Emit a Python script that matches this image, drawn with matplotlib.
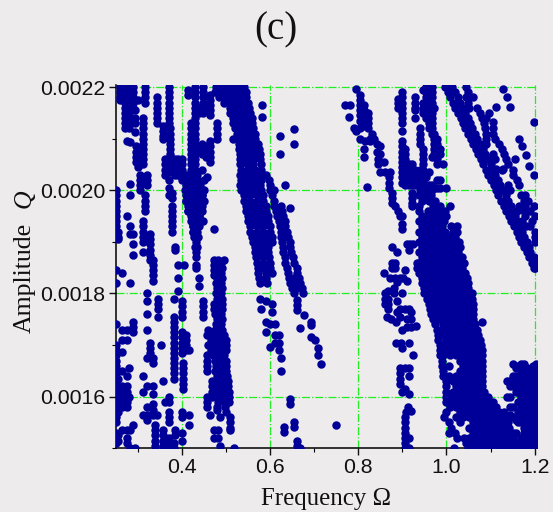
import matplotlib
matplotlib.use('Agg')
import matplotlib.pyplot as plt
from matplotlib.ticker import MultipleLocator, FormatStrFormatter

# values, amplitude in units of 1e-4
# columns are (frequency, [amplitudes]), rows are (amplitude, [frequencies])
left_cols = [
    (0.25, [20.0, 19.9, 19.8, 19.7, 19.6, 19.5, 19.4, 19.3, 18.45, 18.2, 17.4, 17.0, 16.9, 16.8, 16.7, 16.6, 16.5, 16.4, 16.3, 16.2, 16.1, 16.0, 15.9, 15.8, 15.7, 15.6, 15.5, 15.3, 15.2, 15.1]),
    (0.256, [19.2, 19.1, 19.05, 16.35, 16.2, 16.1, 16.0, 15.9, 15.8, 15.7, 15.25, 15.15]),
    (0.26, [22.0, 21.9, 21.8, 21.75]),
    (0.264, [18.4, 17.3, 17.1, 16.87, 16.5, 16.2, 16.1, 16.0, 15.9, 15.8, 15.35]),
    (0.27, [22.0, 21.9, 21.8, 21.7, 21.6, 21.5, 21.4, 21.3, 21.2]),
    (0.275, [19.5, 17.3, 17.1, 16.4, 16.2, 16.1, 16.0, 15.9, 15.8, 15.35, 15.2, 15.1, 20.95]),
    (0.28, [22.0, 21.9, 21.8, 21.7, 21.6, 21.5, 21.4, 21.3, 21.2, 16.55, 16.0]),
    (0.283, [20.94, 20.13, 19.9, 19.3, 19.15, 18.2, 15.35, 15.0]),
    (0.289, [22.0, 21.9, 21.8, 21.7, 21.6, 19.15, 18.95, 18.75, 17.45, 17.35, 17.25, 15.45]),
    (0.294, [21.55, 21.4, 21.3, 21.13, 15.0]),
    (0.296, [20.85, 20.75, 20.65, 20.55]),
    (0.30, [21.75, 20.45]),
    (0.305, [20.3, 20.2, 20.1, 20.0]),
    (0.313, [21.4, 21.3, 21.2, 21.1, 21.0, 20.9, 20.8, 20.7, 20.6, 20.5, 19.4, 19.3, 19.2, 19.1, 19.0, 18.8, 16.4, 16.1, 15.65]),
    (0.317, [22.0, 21.9, 21.8, 21.7, 19.9, 19.8, 19.7, 19.6]),
    (0.32, [20.3, 20.2, 20.1, 18.0, 17.85, 17.6, 17.3, 16.75, 16.2, 15.8, 15.65, 15.55]),
    (0.328, [19.15, 19.05, 18.95, 18.85, 18.75, 18.65, 17.05, 16.95, 16.85]),
    (0.335, [18.65, 18.55, 18.45, 18.35, 18.25, 16.75, 16.65, 16.2, 16.05, 15.85, 15.75, 15.65]),
    (0.339, [15.45, 15.35, 15.25, 15.15, 15.05]),
    (0.343, [21.8, 21.7, 21.6, 21.5, 21.4, 21.3, 15.65]),
    (0.347, [17.9, 17.8, 17.7, 17.55]),
    (0.353, [17.0]),
    (0.358, [21.25, 21.15, 21.05, 21.0, 16.3, 15.35, 15.25, 15.15, 15.05]),
    (0.362, [20.6, 20.5, 20.4, 20.3, 15.9]),
    (0.37, [22.0, 21.9, 21.8, 21.7, 21.6, 21.5, 21.4, 21.3, 20.2, 20.05, 19.9, 16.0, 15.9, 15.7, 15.6, 15.5, 15.2, 15.1, 15.0]),
    (0.373, [21.2, 21.1, 21.0, 20.9, 20.8, 20.7, 20.65, 20.55, 20.45, 20.35]),
    (0.377, [19.95, 19.85, 19.7, 19.6, 19.5, 19.4, 19.3, 19.2]),
    (0.383, [17.9, 17.55, 17.45, 17.35, 17.25, 17.15, 17.05, 16.95, 16.85, 16.75, 16.65, 16.55, 16.45, 16.35, 15.1, 15.0]),
    (0.385, [18.9, 18.85, 20.6, 20.5, 20.4, 20.3, 15.35, 15.25]),
    (0.392, [18.55, 18.3, 18.05, 20.6, 20.5, 20.4, 20.3]),
    (0.40, [17.85, 17.75, 17.65, 17.55, 17.25, 17.15, 17.05, 16.95, 16.85, 15.7, 15.6, 15.3, 15.15, 20.6, 20.5, 20.4, 20.3, 20.2]),
    (0.402, [16.65, 16.55, 16.45, 16.35, 16.25, 16.15]),
    (0.404, [18.55]),
    (0.409, [17.2, 17.1, 17.0, 16.9]),
    (0.417, [16.9, 15.65, 15.45]),
]

spike_cols = [
    (0.41, [20.2, 20.1, 20.0, 19.9, 19.8]),
    (0.415, [21.95, 21.85, 20.25, 20.1, 20.0, 19.9, 19.8, 19.7, 19.6]),
    (0.42, [21.3, 21.2, 21.1, 21.0, 20.9, 20.8, 20.7, 20.6, 20.5, 20.4, 20.3, 20.2, 20.1, 20.0, 19.9, 19.8, 19.7, 19.6, 19.5]),
    (0.425, [19.9, 19.8, 19.7, 19.6, 19.5, 19.4, 19.3, 19.2]),
    (0.43, [22.0, 21.9, 21.8, 21.7, 21.6, 21.5, 21.4, 21.3, 21.2, 21.1, 21.0, 20.9, 20.8, 20.7, 20.6, 20.5, 20.4, 20.3, 20.1, 20.0, 19.9, 19.8, 19.7, 19.6, 19.5, 19.4, 19.3, 19.2, 19.1]),
    (0.432, [19.0, 18.9, 18.8, 18.55, 18.5]),
    (0.44, [21.6, 21.5, 20.1, 20.0, 19.9, 19.8, 19.7, 19.6, 19.5, 18.3, 18.15]),
    (0.445, [20.9, 20.8, 20.7, 20.4, 20.0, 19.9, 19.8]),
    (0.449, [22.0, 21.9, 21.8, 21.7, 21.6, 21.5, 19.4, 17.85, 17.75, 17.65, 17.55]),
    (0.455, [20.85, 20.75, 20.65]),
    (0.457, [21.6, 20.25, 16.8, 16.7, 16.6, 16.5, 16.0, 15.9, 15.8]),
    (0.464, [21.85, 21.75, 21.65, 21.55, 21.45, 20.95, 20.85, 20.75, 20.65, 20.55, 15.65]),
    (0.468, [16.3, 16.2, 16.1, 16.0]),
    (0.472, [19.25, 18.65, 18.55, 18.45, 18.35, 15.35, 15.2]),
    (0.479, [21.3, 21.2, 21.1, 21.0, 15.75]),
    (0.483, [18.65, 15.35, 15.2]),
    (0.487, [15.6, 15.05]),
    (0.495, [18.65]),
    (0.51, [15.6, 15.5, 15.4, 15.35]),
    (0.519, [15.0]),
]

bar_rows = [
    (18.6, [0.478, 0.488]), (18.5, [0.48, 0.49]), (18.4, [0.478, 0.488]), (18.3, [0.48, 0.49]),
    (18.2, [0.478, 0.488]), (18.1, [0.48, 0.49]), (18.0, [0.478, 0.488]), (17.9, [0.48, 0.49]),
    (17.8, [0.472, 0.485, 0.49]), (17.7, [0.472, 0.48, 0.49]), (17.6, [0.475, 0.488]), (17.5, [0.48, 0.49]),
    (17.4, [0.478, 0.488]), (17.3, [0.46, 0.475, 0.49]), (17.2, [0.458, 0.47, 0.483, 0.496]),
    (17.1, [0.465, 0.478, 0.49, 0.5]), (17.0, [0.46, 0.473, 0.486, 0.5]), (16.9, [0.465, 0.478, 0.49, 0.5]),
    (16.8, [0.47, 0.483, 0.496]), (16.7, [0.475, 0.488, 0.5]), (16.6, [0.478, 0.49, 0.5]),
    (16.5, [0.475, 0.488, 0.5]), (16.4, [0.48, 0.492, 0.502]), (16.3, [0.483, 0.495, 0.505]),
    (16.2, [0.478, 0.49, 0.505]), (16.1, [0.483, 0.495, 0.507]), (16.0, [0.48, 0.492, 0.507]),
    (15.9, [0.483, 0.495, 0.507]), (15.8, [0.48, 0.498]), (15.7, [0.5]),
]

spike_rows = [
    (20.3, [0.41, 0.435]), (20.2, [0.405, 0.42, 0.435, 0.45]), (20.1, [0.412, 0.428, 0.442]),
    (20.0, [0.408, 0.423, 0.438, 0.45]), (19.9, [0.412, 0.43, 0.445]), (19.8, [0.41, 0.425, 0.44, 0.45]),
    (19.7, [0.418, 0.432, 0.445]), (19.6, [0.415, 0.43, 0.445]), (19.5, [0.422, 0.435, 0.44]),
    (19.4, [0.42, 0.432, 0.442]), (19.3, [0.425, 0.438]), (19.2, [0.425, 0.435]), (19.1, [0.428, 0.436]),
    (18.9, [0.43, 0.435]), (18.7, [0.432]),
]

band_a_rows = [
    (22.0, [0.478, 0.49, 0.50, 0.51, 0.52, 0.53, 0.54]),
    (21.9, [0.476, 0.49, 0.505, 0.52, 0.535, 0.545]),
    (21.8, [0.485, 0.50, 0.515, 0.53, 0.545]),
    (21.7, [0.495, 0.51, 0.525, 0.54, 0.55]),
    (21.6, [0.51, 0.525, 0.54, 0.552]),
    (21.5, [0.51, 0.525, 0.54, 0.555]),
    (21.4, [0.515, 0.53, 0.545, 0.558]),
    (21.3, [0.515, 0.53, 0.545, 0.56]),
    (21.2, [0.52, 0.532, 0.547, 0.562]),
    (21.1, [0.525, 0.54, 0.555, 0.565]),
    (21.0, [0.517, 0.53, 0.545, 0.56, 0.567]),
    (20.9, [0.53, 0.545, 0.56, 0.572]),
    (20.8, [0.53, 0.545, 0.56, 0.575]),
    (20.7, [0.532, 0.547, 0.562, 0.578]),
    (20.6, [0.532, 0.547, 0.562, 0.578]),
    (20.5, [0.532, 0.547, 0.562, 0.58]),
    (20.4, [0.535, 0.55, 0.565, 0.58]),
    (20.3, [0.532, 0.547, 0.562, 0.577, 0.59]),
    (20.2, [0.535, 0.55, 0.565, 0.58, 0.598]),
    (20.1, [0.532, 0.547, 0.562, 0.577, 0.6]),
    (20.0, [0.535, 0.55, 0.565, 0.58, 0.60, 0.608]),
    (19.9, [0.54, 0.555, 0.57, 0.585, 0.605]),
    (19.8, [0.54, 0.555, 0.57, 0.585, 0.608]),
    (19.7, [0.545, 0.56, 0.575, 0.59, 0.61, 0.625]),
    (19.6, [0.545, 0.56, 0.575, 0.59, 0.613, 0.627]),
    (19.5, [0.55, 0.565, 0.58, 0.595, 0.615, 0.63]),
    (19.4, [0.55, 0.565, 0.58, 0.595, 0.62, 0.633]),
    (19.3, [0.555, 0.57, 0.585, 0.6, 0.622, 0.635]),
    (19.2, [0.555, 0.57, 0.585, 0.6, 0.625, 0.638]),
    (19.1, [0.56, 0.575, 0.59, 0.605, 0.625, 0.64]),
    (19.0, [0.562, 0.575, 0.59, 0.605, 0.628, 0.645]),
    (18.9, [0.565, 0.58, 0.595, 0.63, 0.645]),
    (18.8, [0.565, 0.58, 0.595, 0.63, 0.648]),
    (18.7, [0.568, 0.583, 0.598, 0.635, 0.652]),
    (18.6, [0.57, 0.585, 0.6, 0.635, 0.655]),
    (18.5, [0.572, 0.587, 0.6, 0.638, 0.66]),
    (18.4, [0.572, 0.59, 0.604, 0.64, 0.66]),
    (18.3, [0.575, 0.59, 0.642, 0.655, 0.665]),
    (18.2, [0.578, 0.594, 0.645, 0.658, 0.668]),
    (18.1, [0.65, 0.662, 0.672]),
    (18.0, [0.655, 0.675]),
]

band_a_extra = [
    (0.581, 21.65), (0.581, 21.42), (0.654, 21.18), (0.654, 20.89), (0.623, 21.05), (0.623, 20.7),
    (0.646, 19.66), (0.635, 20.1), (0.578, 17.9), (0.59, 17.85), (0.604, 17.8), (0.58, 17.7),
    (0.604, 17.65), (0.59, 17.45), (0.60, 17.4), (0.59, 17.25), (0.612, 17.4), (0.612, 17.2),
    (0.612, 17.05), (0.62, 17.2), (0.62, 17.05), (0.62, 16.9), (0.60, 16.97), (0.625, 16.75),
    (0.625, 16.5), (0.646, 15.95), (0.646, 15.85), (0.654, 15.5), (0.654, 15.42), (0.631, 15.42),
    (0.631, 15.32), (0.66, 15.15), (0.66, 15.05), (0.668, 15.0), (0.661, 17.87), (0.661, 17.78),
    (0.661, 17.68), (0.676, 17.58), (0.669, 17.34), (0.693, 17.45), (0.693, 17.38), (0.693, 17.16),
    (0.701, 17.1), (0.708, 16.94), (0.708, 16.81), (0.716, 16.63), (0.75, 15.45),
]

chain_pts = [
    (0.796, 21.97), (0.77, 21.65), (0.782, 21.65), (0.78, 21.42), (0.79, 21.2), (0.795, 21.15), (0.805, 21.2),
    (0.805, 21.85), (0.805, 21.75), (0.805, 21.65), (0.805, 21.55), (0.805, 21.45), (0.805, 21.35),
    (0.812, 21.65), (0.812, 21.55), (0.815, 21.45), (0.815, 21.35), (0.815, 21.25), (0.823, 21.5), (0.823, 21.4),
    (0.823, 21.3), (0.823, 21.2), (0.805, 21.0), (0.815, 20.95), (0.827, 21.0), (0.827, 20.95), (0.832, 21.1), (0.836, 21.0),
    (0.812, 20.8), (0.812, 20.65), (0.842, 20.9), (0.85, 20.85), (0.842, 20.75), (0.85, 20.7), (0.844, 20.6), (0.844, 20.5),
    (0.859, 20.55), (0.85, 20.35), (0.86, 20.35), (0.872, 20.35), (0.869, 20.25), (0.869, 20.15), (0.869, 20.05),
    (0.876, 19.95), (0.876, 19.85), (0.876, 19.75), (0.884, 19.7), (0.89, 19.6), (0.894, 19.5), (0.899, 19.5),
    (0.899, 19.35), (0.899, 19.25), (0.82, 20.07),
    (0.876, 18.9), (0.887, 18.8), (0.876, 18.6), (0.884, 18.6), (0.876, 18.5), (0.884, 18.5), (0.859, 18.4),
    (0.872, 18.3), (0.884, 18.3), (0.895, 18.3), (0.902, 18.3), (0.906, 18.45), (0.91, 18.95), (0.918, 18.95),
    (0.925, 18.95), (0.914, 18.85), (0.933, 18.6), (0.933, 18.5), (0.94, 18.4),
    (0.861, 18.0), (0.861, 17.9), (0.861, 17.8), (0.868, 18.05), (0.868, 17.9), (0.868, 17.8), (0.868, 17.7),
    (0.865, 17.55), (0.875, 17.5), (0.885, 17.45), (0.88, 18.1), (0.88, 18.0), (0.888, 17.85), (0.888, 17.65),
    (0.895, 17.7), (0.905, 17.7), (0.915, 17.7), (0.92, 17.65), (0.895, 17.55), (0.91, 17.5), (0.92, 17.5),
    (0.90, 17.3), (0.91, 17.35), (0.92, 17.35), (0.93, 17.37), (0.885, 17.05), (0.897, 17.05), (0.90, 16.95),
    (0.915, 17.05), (0.925, 16.8), (0.90, 18.0), (0.91, 18.25), (0.888, 18.22),
    (0.895, 16.55), (0.895, 16.45), (0.895, 16.35), (0.905, 16.55), (0.915, 16.55), (0.915, 16.4), (0.895, 16.25), (0.905, 16.15),
    (0.90, 16.1), (0.915, 16.05), (0.912, 15.8), (0.92, 15.72), (0.908, 15.7), (0.905, 15.6), (0.905, 15.5),
    (0.905, 15.4), (0.905, 15.3), (0.905, 15.2), (0.905, 15.1), (0.905, 15.0), (0.915, 15.2), (0.915, 15.0),
]

centre_cols = [
    (0.891, [21.77, 21.7, 21.6]),
    (0.899, [21.9, 21.8, 21.7, 21.6, 21.5, 21.4, 21.3, 21.15, 20.95, 20.85, 20.75, 20.65, 20.55, 20.45, 20.35, 20.25, 20.15]),
    (0.907, [20.8, 20.7, 20.6, 20.5, 20.4, 20.3, 20.2, 20.1]),
    (0.915, [20.5, 20.4, 20.3, 20.2, 20.1]),
    (0.921, [20.5, 20.4, 20.3, 20.2, 20.1, 19.95, 19.85, 19.75, 19.7]),
    (0.929, [21.8, 21.7, 21.6, 21.55, 21.4, 20.4, 20.3, 20.2, 20.1]),
    (0.94, [21.2, 21.1, 21.0, 20.9, 20.4, 20.3, 20.2, 20.1, 20.0]),
    (0.947, [20.8, 20.7, 20.6, 20.5, 20.4, 20.3, 20.2, 20.1, 20.0, 21.95, 21.7, 21.6, 21.5]),
    (0.953, [22.0, 21.9, 21.8, 21.7, 21.6, 21.5, 21.4, 20.25, 20.1, 20.0]),
    (0.96, [22.0, 21.9, 21.8, 21.7, 21.6, 21.5, 21.4, 21.3, 21.2, 20.35, 20.1, 20.0]),
    (0.967, [22.0, 21.9, 21.8, 21.7, 21.6, 21.5, 21.4, 21.3, 21.2, 21.1, 20.65, 20.1, 20.0]),
    (0.972, [21.6, 21.1, 21.0, 20.9, 20.8, 20.7]),
    (0.978, [21.0, 20.9, 20.8, 20.7, 20.6, 20.5, 20.2, 20.05]),
    (0.986, [20.2, 20.05, 20.8, 20.7]),
    (0.993, [20.5]),
    (1.0, [20.05]),
    (1.008, [19.7]),
    (1.08, [17.45]),
]

block_rows = [
    (19.9, [0.937, 0.95, 0.965]),
    (19.8, [0.945, 0.96, 0.975]),
    (19.7, [0.937, 0.97, 0.985]),
    (19.6, [0.937, 0.958, 0.973, 0.988, 0.997]),
    (19.5, [0.945, 0.96, 0.975, 0.99, 1.0]),
    (19.4, [0.937, 0.952, 0.967, 0.982, 0.995]),
    (19.3, [0.945, 0.96, 0.975, 0.99, 1.01, 1.023]),
    (19.2, [0.937, 0.952, 0.967, 0.982, 0.997, 1.015, 1.025]),
    (19.1, [0.945, 0.96, 0.975, 0.99, 1.005, 1.02]),
    (19.0, [0.937, 0.952, 0.967, 0.982, 0.997, 1.012, 1.028]),
    (18.9, [0.945, 0.96, 0.975, 0.99, 1.005, 1.02, 1.03]),
    (18.8, [0.937, 0.952, 0.967, 0.982, 0.997, 1.012, 1.027]),
    (18.7, [0.945, 0.96, 0.975, 0.99, 1.005, 1.02, 1.035]),
    (18.6, [0.937, 0.952, 0.967, 0.982, 0.997, 1.012, 1.027, 1.04]),
    (18.5, [0.945, 0.96, 0.975, 0.99, 1.005, 1.02, 1.035]),
    (18.4, [0.937, 0.952, 0.967, 0.982, 0.997, 1.012, 1.027, 1.042]),
    (18.3, [0.945, 0.96, 0.975, 0.99, 1.005, 1.02, 1.035, 1.046]),
    (18.2, [0.945, 0.952, 0.967, 0.982, 0.997, 1.012, 1.027, 1.042, 1.05]),
    (18.1, [0.948, 0.96, 0.975, 0.99, 1.005, 1.02, 1.035, 1.05]),
    (18.0, [0.948, 0.962, 0.977, 0.992, 1.007, 1.022, 1.037, 1.052, 1.057]),
    (17.9, [0.955, 0.97, 0.985, 1.0, 1.015, 1.03, 1.045, 1.057]),
    (17.8, [0.96, 0.977, 0.992, 1.007, 1.022, 1.037, 1.052, 1.06]),
    (17.7, [0.963, 0.97, 0.985, 1.0, 1.015, 1.03, 1.045, 1.06]),
    (17.6, [0.965, 0.977, 0.992, 1.007, 1.022, 1.037, 1.052, 1.061]),
    (17.5, [0.97, 0.985, 1.0, 1.015, 1.03, 1.045, 1.06]),
    (17.4, [0.975, 0.992, 1.007, 1.022, 1.037, 1.052, 1.065]),
    (17.3, [0.978, 0.985, 1.0, 1.015, 1.03, 1.045, 1.06, 1.069]),
    (17.2, [0.98, 0.992, 1.007, 1.022, 1.037, 1.052, 1.067, 1.072]),
    (17.1, [0.982, 1.0, 1.015, 1.03, 1.045, 1.06, 1.075]),
    (17.0, [0.985, 0.992, 1.007, 1.022, 1.037, 1.052, 1.067, 1.078]),
    (16.9, [0.985, 1.0, 1.015, 1.03, 1.045, 1.06, 1.075, 1.08]),
    (16.8, [0.986, 0.992, 1.007, 1.022, 1.037, 1.052, 1.067, 1.08]),
    (16.7, [0.99, 1.03, 1.045, 1.06, 1.075, 1.08]),
    (16.6, [0.99, 1.005, 1.037, 1.052, 1.067, 1.08]),
    (16.5, [0.993, 1.03, 1.045, 1.06, 1.075, 1.08]),
    (16.4, [0.993, 1.005, 1.022, 1.037, 1.052, 1.067, 1.08]),
    (16.3, [1.0, 1.015, 1.03, 1.045, 1.06, 1.075, 1.08]),
    (16.2, [1.0, 1.022, 1.037, 1.052, 1.067, 1.08]),
    (16.1, [1.0, 1.015, 1.03, 1.045, 1.06, 1.075, 1.085]),
    (16.0, [1.0, 1.007, 1.022, 1.037, 1.052, 1.067, 1.082, 1.095]),
    (15.9, [1.0, 1.015, 1.03, 1.045, 1.06, 1.075, 1.09, 1.105]),
    (15.8, [1.007, 1.022, 1.037, 1.052, 1.067, 1.082, 1.097, 1.112]),
    (15.7, [1.0, 1.03, 1.045, 1.06, 1.075, 1.09, 1.105, 1.12, 1.13]),
    (15.6, [0.995, 1.022, 1.037, 1.052, 1.067, 1.082, 1.097, 1.112, 1.127, 1.138]),
    (15.5, [1.005, 1.03, 1.06, 1.075, 1.09, 1.105, 1.12, 1.135, 1.14]),
    (15.4, [1.01, 1.052, 1.067, 1.082, 1.097, 1.112, 1.127, 1.142]),
    (15.3, [1.005, 1.02, 1.06, 1.075, 1.09, 1.105, 1.12, 1.135, 1.15]),
    (15.2, [1.025, 1.04, 1.052, 1.067, 1.082, 1.097, 1.112, 1.127, 1.142, 1.152]),
    (15.1, [1.045, 1.06, 1.075, 1.09, 1.105, 1.12, 1.135, 1.15, 1.157]),
    (15.0, [1.017, 1.05, 1.067, 1.082, 1.097, 1.112, 1.127, 1.142, 1.159]),
]

diag_rows = [
    (22.0, [0.997, 1.012, 1.045]), (21.9, [1.003, 1.02, 1.05]), (21.8, [1.009, 1.026, 1.045, 1.06]),
    (21.7, [1.014, 1.03, 1.048]), (21.6, [1.02, 1.036, 1.052, 1.07]), (21.5, [1.026, 1.042, 1.075]),
    (21.4, [1.032, 1.048, 1.08, 1.09]), (21.3, [1.037, 1.053, 1.085]), (21.2, [1.043, 1.059, 1.088, 1.105]),
    (21.1, [1.049, 1.064, 1.09, 1.105]), (21.0, [1.055, 1.07, 1.09, 1.11]), (20.9, [1.06, 1.076, 1.09, 1.12]),
    (20.8, [1.066, 1.082, 1.125]), (20.7, [1.072, 1.088, 1.105, 1.13]), (20.6, [1.078, 1.094, 1.11, 1.135]),
    (20.5, [1.084, 1.1, 1.14]), (20.4, [1.089, 1.105, 1.125, 1.15]), (20.3, [1.095, 1.11, 1.15]),
    (20.2, [1.101, 1.116, 1.16]), (20.1, [1.107, 1.122, 1.14, 1.165]), (20.0, [1.112, 1.128, 1.145]),
    (19.9, [1.118, 1.134, 1.168, 1.178]), (19.8, [1.124, 1.14, 1.175, 1.185]), (19.7, [1.13, 1.146, 1.165, 1.178, 1.198]),
    (19.6, [1.136, 1.152, 1.16, 1.175, 1.19]), (19.5, [1.141, 1.156, 1.178, 1.2]), (19.4, [1.147, 1.16, 1.172, 1.195]),
    (19.3, [1.153, 1.166, 1.18, 1.19]), (19.2, [1.159, 1.172, 1.2]), (19.1, [1.164, 1.176, 1.2]),
    (19.0, [1.17, 1.182, 1.2]), (18.9, [1.176, 1.188]), (18.8, [1.182, 1.19]), (18.7, [1.187, 1.198]),
    (18.6, [1.193, 1.2]), (18.5, [1.199, 1.2]),
]

diag_extra = [
    (1.129, 21.97), (1.138, 21.8), (1.145, 21.62), (1.113, 21.62), (1.097, 21.5), (1.105, 21.32),
    (1.164, 21.0), (1.172, 20.85), (1.18, 20.68), (1.156, 20.6), (1.188, 20.48), (1.199, 21.33),
    (1.199, 20.3), (1.129, 20.42), (1.112, 20.42),
]

bump_cols = [
    (1.137, [16.3, 16.0]),
    (1.145, [16.3, 16.2, 16.0, 15.8, 15.65]),
    (1.152, [16.63, 16.4, 16.3, 16.2, 15.8, 15.6]),
    (1.158, [16.55, 16.4, 16.3, 16.2, 16.1, 15.55, 15.3]),
    (1.163, [16.6, 16.3, 16.2, 16.1, 15.9, 15.7, 15.6, 15.5, 15.1]),
    (1.17, [16.63, 16.5, 16.4, 16.3, 16.2, 16.1, 16.0, 15.9, 15.8, 15.7, 15.6, 15.5, 15.2, 15.0]),
    (1.176, [16.63, 16.5, 16.4, 16.3, 16.2, 16.1, 16.0, 15.9, 15.8, 15.7, 15.6, 15.5, 15.4, 15.3, 15.1]),
    (1.183, [16.55, 16.4, 16.3, 16.2, 16.1, 16.0, 15.9, 15.8, 15.7, 15.6, 15.5, 15.4, 15.3, 15.2, 15.1, 15.0]),
    (1.19, [16.5, 16.4, 16.3, 16.2, 16.1, 16.0, 15.9, 15.8, 15.7, 15.6, 15.5, 15.4, 15.3, 15.2, 15.1, 15.0]),
    (1.197, [16.6, 16.5, 16.4, 16.3, 16.2, 16.1, 16.0, 15.9, 15.8, 15.7, 15.6, 15.5, 15.4, 15.3, 15.2, 15.1, 15.0]),
    (1.203, [16.63, 16.5, 16.4, 16.3, 16.2, 16.1, 16.0, 15.9, 15.8, 15.7, 15.6, 15.5, 15.4, 15.3, 15.2, 15.1, 15.0]),
]

x_ticks = [0.4, 0.6, 0.8, 1.0, 1.2]
y_ticks = [0.0016, 0.0018, 0.0020, 0.0022]

freq = []
amp = []
for f, amps in left_cols + spike_cols + centre_cols + bump_cols:
    for a in amps:
        freq.append(f)
        amp.append(a * 1e-4)
for a, freqs in bar_rows + spike_rows + band_a_rows + block_rows + diag_rows:
    for f in freqs:
        freq.append(f)
        amp.append(a * 1e-4)
for f, a in band_a_extra + chain_pts + diag_extra:
    freq.append(f)
    amp.append(a * 1e-4)

bg = '#edebec'
W, H = 553, 512
fig = plt.figure(figsize=(W / 100, H / 100), dpi=100, facecolor=bg)
ax = fig.add_axes([115.7 / W, 1 - 448.3 / H, (536.7 - 115.7) / W, (448.3 - 85) / H], facecolor=bg)

ax.scatter(freq, amp, s=37, color='#000099', linewidths=0, zorder=3)

ax.set_xlim(0.25, 1.2047)
ax.set_ylim(0.0015, 0.002204)
ax.set_xticks(x_ticks)
ax.set_yticks(y_ticks)
ax.xaxis.set_minor_locator(MultipleLocator(0.1))
ax.yaxis.set_minor_locator(MultipleLocator(0.0001))
ax.xaxis.set_major_formatter(FormatStrFormatter('%.1f'))
ax.yaxis.set_major_formatter(FormatStrFormatter('%.4f'))
ax.tick_params(which='major', length=5, width=1, labelsize=15.3, labelfontfamily='Liberation Sans', colors='#111111')
ax.tick_params(axis='y', which='major', pad=2.5)
ax.tick_params(axis='x', which='major', pad=2)
ax.tick_params(which='minor', length=3, width=0.8)
ax.grid(True, which='major', color='#22ee22', linestyle='-.', linewidth=0.9, zorder=1)
for s in ['top', 'right']:
    ax.spines[s].set_visible(False)
for s in ['left', 'bottom']:
    ax.spines[s].set_linewidth(1.1)

fig.text(276 / W, 1 - 30 / H, '(c)', family='Liberation Serif', fontsize=28, ha='center', va='center', color='#111111')
fig.text(326 / W, 1 - 499 / H, 'Frequency Ω', family='Liberation Serif', fontsize=17.9, ha='center', va='center', color='#111111')
fig.text(25 / W, 1 - 278 / H, 'Amplitude', family='Liberation Serif', fontsize=18.5, rotation=90, ha='center', va='center', color='#111111')
fig.text(25 / W, 1 - 199 / H, 'Q', family='Liberation Serif', style='italic', fontsize=18.5, rotation=90, ha='center', va='center', color='#111111')

fig.savefig('out.png', dpi=100, facecolor=bg)
